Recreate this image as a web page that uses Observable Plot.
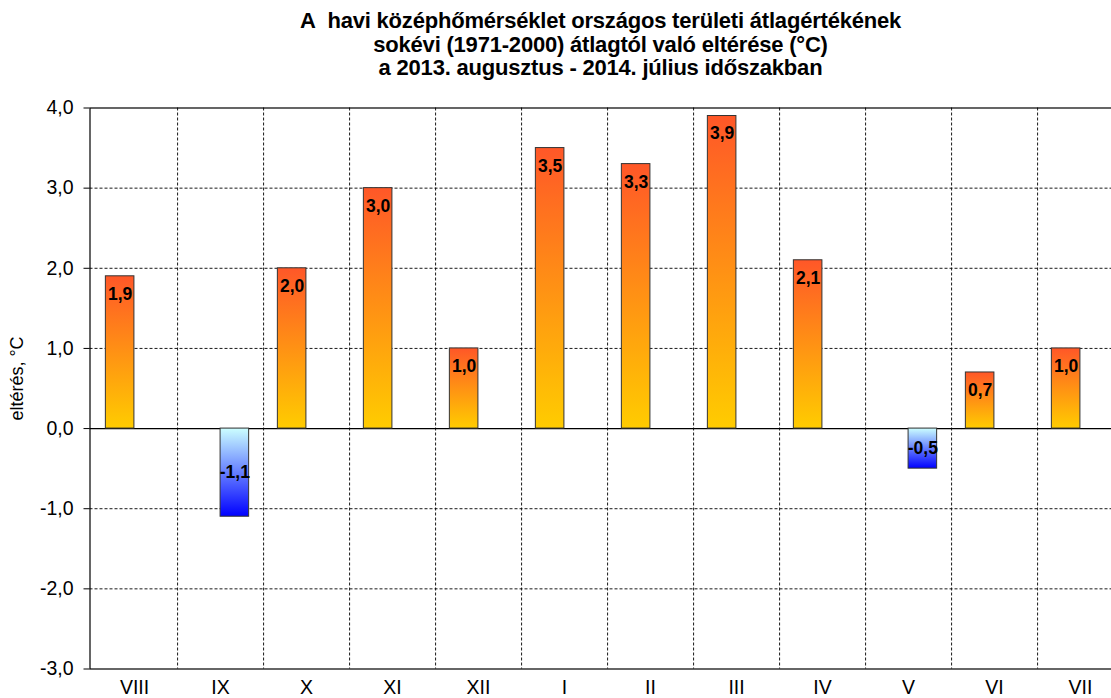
<!DOCTYPE html>
<html>
<head>
<meta charset="utf-8">
<script src="https://cdn.jsdelivr.net/npm/d3@7"></script>
<script src="https://cdn.jsdelivr.net/npm/@observablehq/plot@0.6"></script>
<style>
  html, body { margin: 0; padding: 0; background: #fff; overflow: hidden; width: 1111px; height: 698px; }
  #title {
    box-sizing: border-box;
    height: 90px;
    width: 1111px;
    padding-top: 9px;
    padding-left: 90px;
    text-align: center;
    font-family: "Liberation Sans", Arial, sans-serif;
    font-weight: bold;
    font-size: 22px;
    line-height: 23.5px;
    letter-spacing: -0.2px;
    color: #000;
  }
  #chart svg { display: block; overflow: visible; }
</style>
</head>
<body>
<div id="title">A&nbsp; havi középhőmérséklet országos területi átlagértékének<br>sokévi (1971-2000) átlagtól való eltérése (°C)<br>a 2013. augusztus - 2014. július időszakban</div>
<div id="chart"></div>
<script>
const months = ["VIII", "IX", "X", "XI", "XII", "I", "II", "III", "IV", "V", "VI", "VII"];
const warmValues = [1.9, null, 2.0, 3.0, 1.0, 3.5, 3.3, 3.9, 2.1, null, 0.7, 1.0];
const coolValues = [null, -1.1, null, null, null, null, null, null, null, -0.5, null, null];
const yTicks = [-3, -2, -1, 0, 1, 2, 3, 4];
const gridTicks = [-2, -1, 1, 2, 3];
const yLabel = "eltérés, °C";

const warm = months.map((m, i) => ({month: m, value: warmValues[i]})).filter(d => d.value != null);
const cool = months.map((m, i) => ({month: m, value: coolValues[i]})).filter(d => d.value != null);

const fmt = v => v.toFixed(1).replace(".", ",");

const W = 1111;
const xStart = 89.5, xEnd = 1123.5;
const band = (xEnd - xStart) / months.length;
const half = band / 2;
const sixth = band / 6;

const gradients = () => {
  const defs = d3.create("svg:defs");
  const g1 = defs.append("linearGradient").attr("id", "warmGrad")
    .attr("x1", 0).attr("y1", 0).attr("x2", 0).attr("y2", 1);
  g1.append("stop").attr("offset", "0%").attr("stop-color", "#ff5728");
  g1.append("stop").attr("offset", "100%").attr("stop-color", "#ffcc00");
  const g2 = defs.append("linearGradient").attr("id", "coolGrad")
    .attr("x1", 0).attr("y1", 0).attr("x2", 0).attr("y2", 1);
  g2.append("stop").attr("offset", "0%").attr("stop-color", "#ccffff");
  g2.append("stop").attr("offset", "100%").attr("stop-color", "#0000ff");
  return defs.node();
};

const chart = Plot.plot({
  width: W,
  height: 608,
  marginTop: 17.5,
  marginBottom: 29.5,
  marginLeft: xStart,
  marginRight: W - xEnd,
  style: {fontFamily: "Liberation Sans, Arial, sans-serif", fontSize: "19px", color: "#000", background: "#fff"},
  x: {type: "band", domain: months, range: [xStart, xEnd], padding: 0, label: null},
  y: {domain: [-3, 4], label: null},
  marks: [
    gradients,
    Plot.gridY(gridTicks, {stroke: "#000", strokeOpacity: 0.9, strokeDasharray: "3,2"}),
    Plot.ruleX(months.slice(0, months.length - 1), {x: d => d, dx: half, stroke: "#000", strokeOpacity: 0.9, strokeDasharray: "3,2"}),
    Plot.ruleY([0], {stroke: "#000", strokeWidth: 1.2}),
    Plot.barY(warm, {x: "month", y: "value", fill: "url(#warmGrad)", stroke: "#333", strokeWidth: 1, insetLeft: sixth, insetRight: half}),
    Plot.barY(cool, {x: "month", y: "value", fill: "url(#coolGrad)", stroke: "#333", strokeWidth: 1, insetLeft: half, insetRight: sixth}),
    Plot.text(warm, {x: "month", y: "value", text: d => fmt(d.value), dx: -sixth, lineAnchor: "top", dy: 11, fontWeight: "bold", fontSize: 17.5, fill: "#000"}),
    Plot.text(cool, {x: "month", y: d => d.value / 2, text: d => fmt(d.value), dx: sixth, lineAnchor: "middle", fontWeight: "bold", fontSize: 17.5, fill: "#000"}),
    Plot.axisY({ticks: yTicks, tickSize: 6, tickPadding: 10.5, tickFormat: fmt, fontSize: 19.5, label: null}),
    Plot.axisX({tickSize: 0, tickPadding: 11, fontSize: 19.5, label: null}),
    Plot.text([yLabel], {frameAnchor: "left", textAnchor: "middle", lineAnchor: "middle", dx: -72.5, dy: -10, rotate: -90, fontSize: 18, fill: "#000"}),
    Plot.frame({stroke: "#000", strokeWidth: 1.2})
  ]
});
document.getElementById("chart").appendChild(chart);
</script>
</body>
</html>
